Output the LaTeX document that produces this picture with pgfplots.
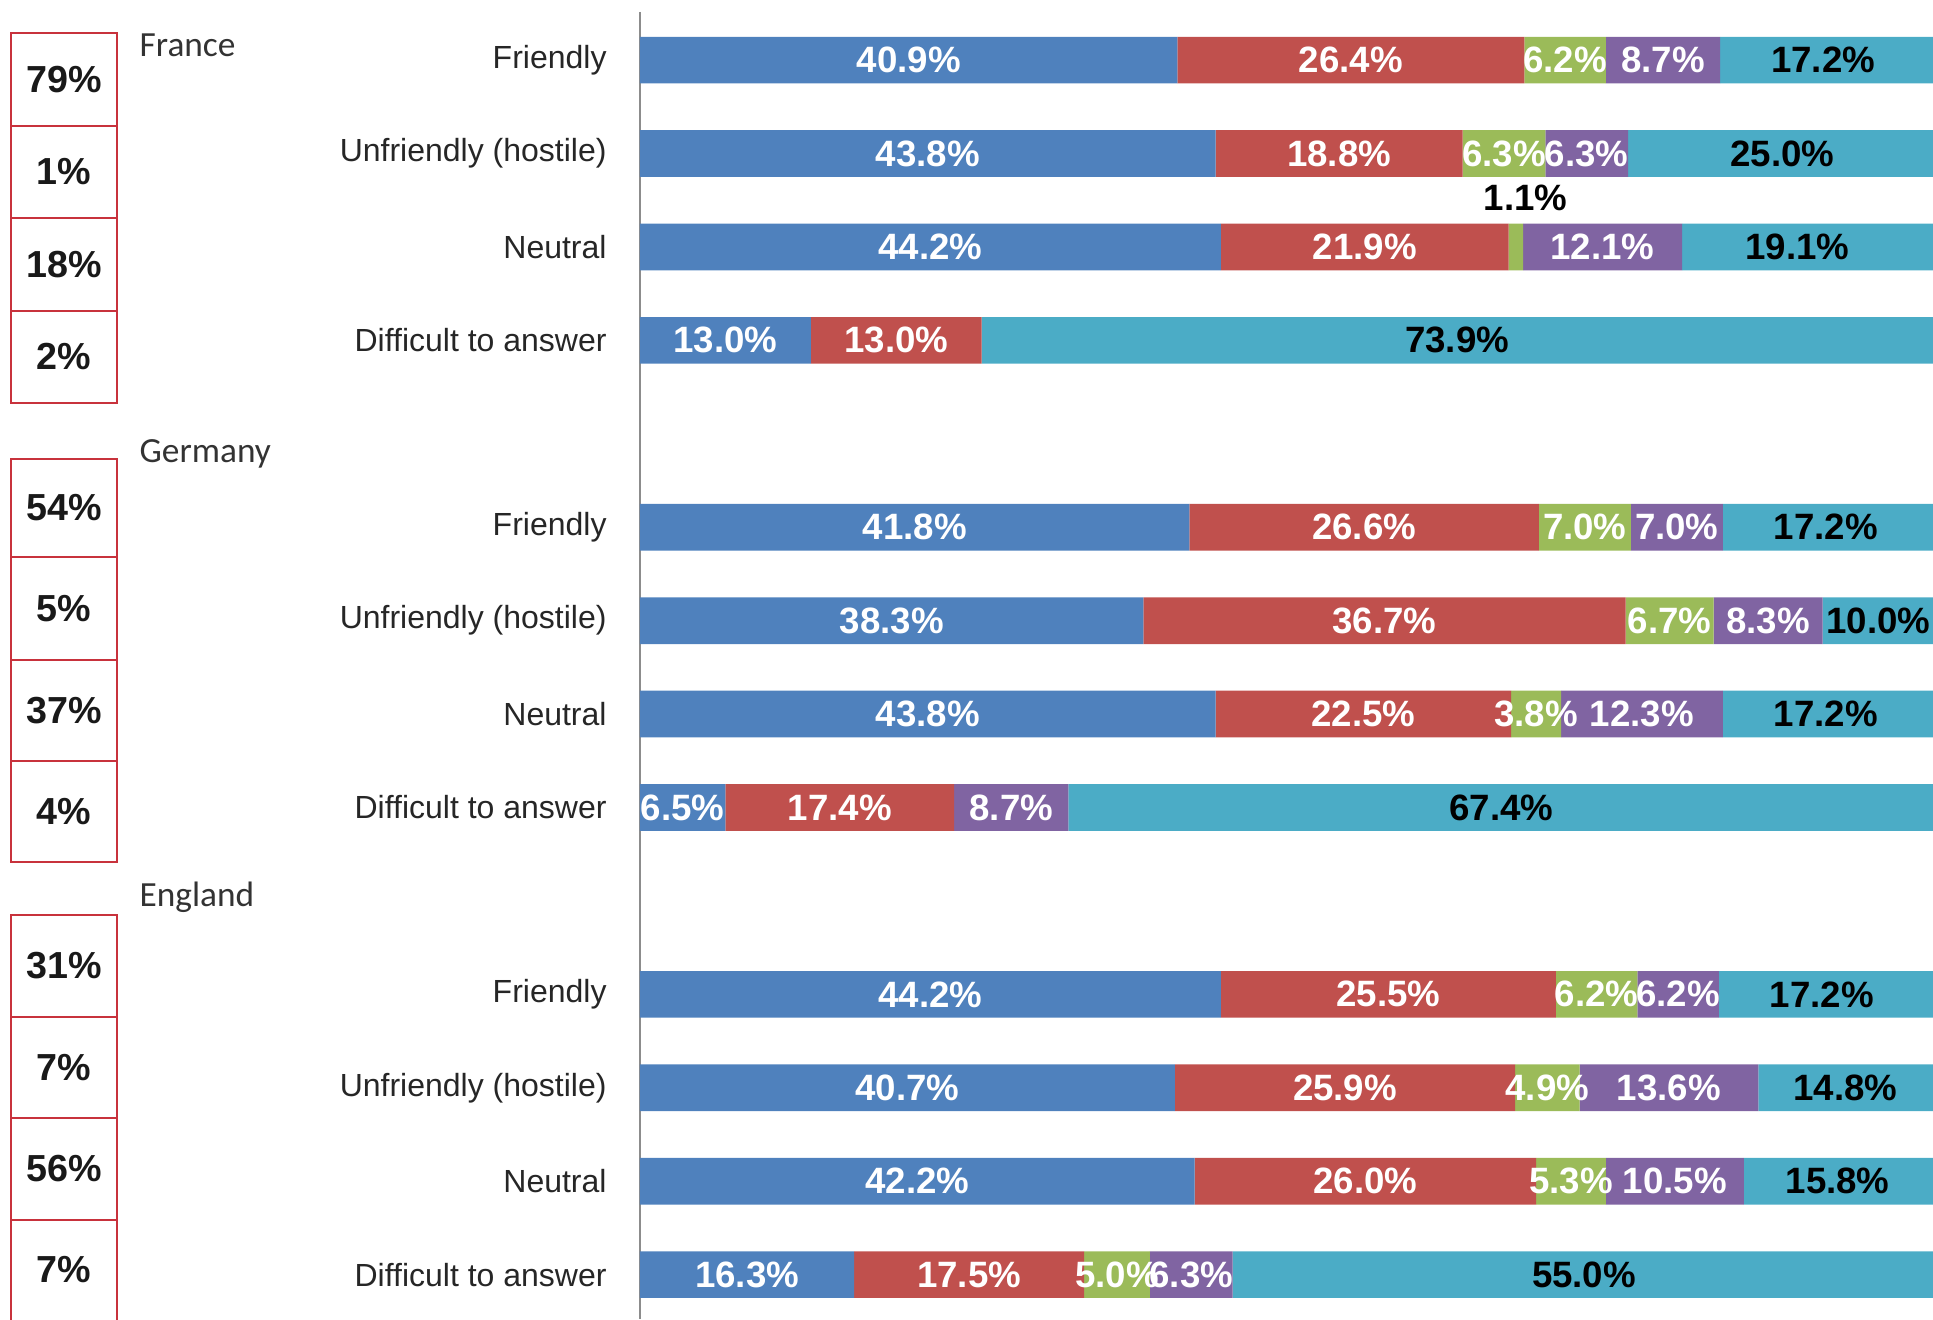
\documentclass[border=0pt]{standalone}
\usepackage{pgfplots}
\pgfplotsset{compat=1.18}
\usepackage{pgfplotstable}
\usepackage{fontspec}
\setmainfont{Liberation Sans}
\newfontfamily\grpfont{Carlito}
\definecolor{cblue}{HTML}{4F81BD}
\definecolor{cred}{HTML}{C0504D}
\definecolor{cgreen}{HTML}{9BBB59}
\definecolor{cpurple}{HTML}{8064A2}
\definecolor{cteal}{HTML}{4BACC6}
\definecolor{boxred}{HTML}{C8323C}
\pgfplotstableread{
pos blue red green purple teal greenlab
0 40.9 26.4 6.2 8.7 17.2 6.2
1 43.8 18.8 6.3 6.3 25.0 6.3
2 44.2 21.9 1.1 12.1 19.1 0
3 13.0 13.0 0 0 73.9 0
5 41.8 26.6 7.0 7.0 17.2 7.0
6 38.3 36.7 6.7 8.3 10.0 6.7
7 43.8 22.5 3.8 12.3 17.2 3.8
8 6.5 17.4 0 8.7 67.4 0
10 44.2 25.5 6.2 6.2 17.2 6.2
11 40.7 25.9 4.9 13.6 14.8 4.9
12 42.2 26.0 5.3 10.5 15.8 5.3
13 16.3 17.5 5.0 6.3 55.0 5.0
}\data
\pgfplotsset{
  seg/.style n args={4}{
    fill=#1, draw=none,
    point meta=explicit,
    nodes near coords={\pgfmathfloatifflags{\pgfplotspointmeta}{0}{}{\pgfmathprintnumber{\pgfplotspointmeta}\%}},
    every node near coord/.style={text=#3, font=\fontsize{11}{12}\selectfont\bfseries,
      anchor=center, inner sep=0pt, xshift=#4},
  },
}
\begin{document}
\begin{tikzpicture}
\path[use as bounding box] (-192pt,0pt) rectangle (387.9pt,395.7pt);
\begin{axis}[
  at={(0pt,0pt)}, anchor=south west,
  scale only axis, width=395.0pt, height=392.1pt,
  xbar stacked, bar width=0.5,
  xmin=0, xmax=100.2,
  ymin=-0.515, ymax=13.475, y dir=reverse,
  ytick={0,1,2,3,5,6,7,8,10,11,12,13},
  yticklabels={Friendly,Unfriendly (hostile),Neutral,Difficult to answer,
               Friendly,Unfriendly (hostile),Neutral,Difficult to answer,
               Friendly,Unfriendly (hostile),Neutral,Difficult to answer},
  xtick=\empty,
  major tick length=0pt,
  axis lines*=left,
  x axis line style={draw=none},
  y axis line style={draw=black!45, line width=0.6pt},
  yticklabel style={font=\fontsize{9.6}{11}\selectfont, text=black!85, xshift=-6.5pt},
  /pgf/number format/.cd, fixed, fixed zerofill, precision=1, assume math mode=true,
]
\addplot[seg={cblue}{blue}{white}{0pt}] table[x=blue, y=pos, meta=blue] {\data};
\addplot[seg={cred}{red}{white}{0pt}] table[x=red, y=pos, meta=red] {\data};
\addplot[seg={cgreen}{green}{white}{0pt}] table[x=green, y=pos, meta=greenlab] {\data};
\addplot[seg={cpurple}{purple}{white}{0pt}] table[x=purple, y=pos, meta=purple] {\data};
\addplot[seg={cteal}{teal}{black}{-3pt}] table[x=teal, y=pos, meta=teal] {\data};
\node[font=\fontsize{11}{12}\selectfont\bfseries, text=black, inner sep=0pt] at (axis cs:67.4,1.47) {1.1\%};
\end{axis}
\begin{scope}[shift={(-192pt,395.7pt)}, x=0.3pt, y=-0.3pt]
  \begin{scope}[boxred, line width=0.6pt]
    \foreach \a/\b in {33/126,126/218,218/311,311/403,459/557,557/660,660/761,761/862,915/1017,1017/1118,1118/1220,1220/1340}
      \draw (11,\a) rectangle (117,\b);
  \end{scope}
  \foreach \yy/\tx in {79.5/79,172/1,264.5/18,357/2,508/54,608.5/5,710.5/37,811.5/4,966/31,1067.5/7,1169/56,1270/7}
    \node[font=\fontsize{11.3}{12}\selectfont\bfseries, text=black!90] at (64,\yy) {\tx\%};
  \node[font=\grpfont\fontsize{10.6}{12}\selectfont, text=black!80, anchor=base west, inner sep=0pt] at (139,57) {France};
  \node[font=\grpfont\fontsize{10.6}{12}\selectfont, text=black!80, anchor=base west, inner sep=0pt] at (139,463) {Germany};
  \node[font=\grpfont\fontsize{10.6}{12}\selectfont, text=black!80, anchor=base west, inner sep=0pt] at (139,906) {England};
\end{scope}
\end{tikzpicture}
\end{document}
